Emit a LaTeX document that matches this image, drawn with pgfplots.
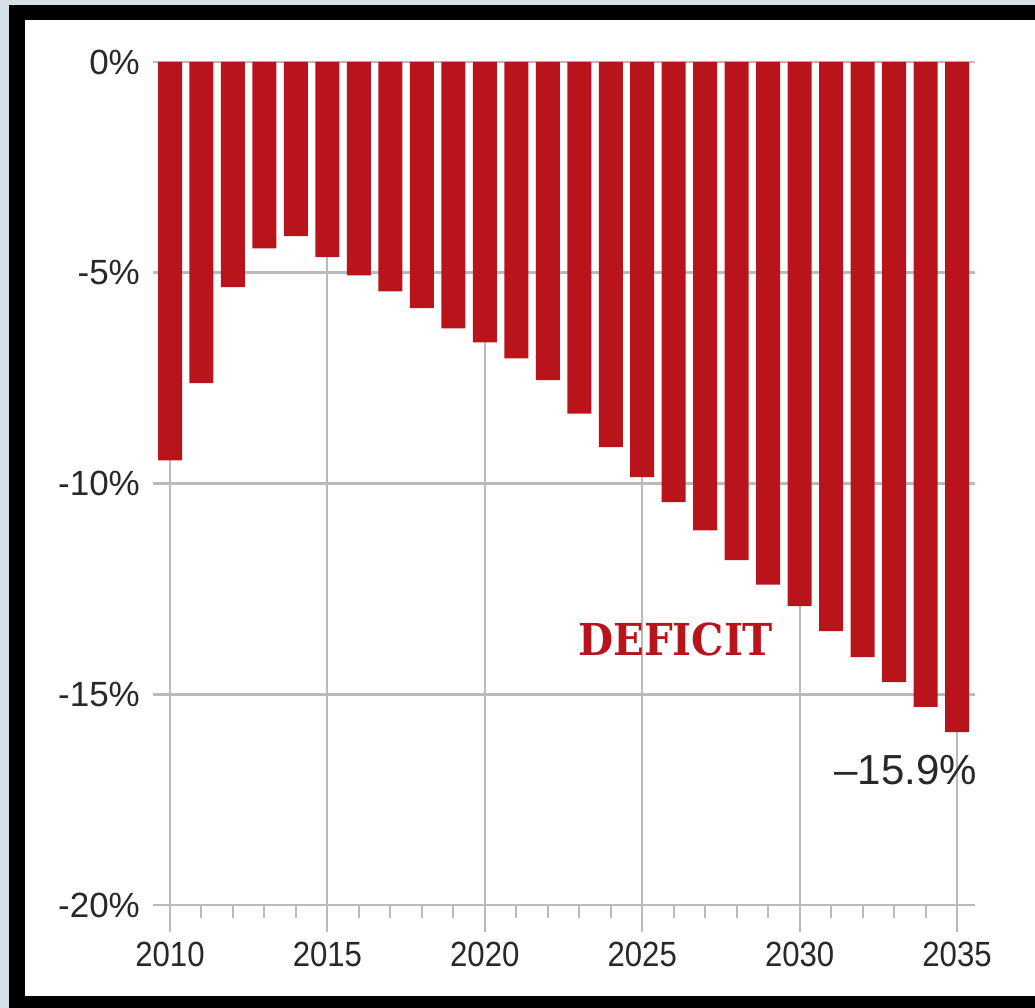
\documentclass[border=0pt]{standalone}
\usepackage{pgfplots}
\pgfplotsset{compat=1.18}
\usepackage{fontspec}
\setmainfont{Liberation Sans}
\newfontfamily\tickfont[FakeStretch=0.89]{Liberation Sans}
\newfontfamily\slabfont[FakeStretch=0.92]{DejaVu Serif}
\definecolor{barred}{RGB}{185,20,28}
\definecolor{gridgray}{RGB}{184,186,190}
\definecolor{txt}{RGB}{40,40,40}
\definecolor{bgblue}{RGB}{214,224,233}
\begin{document}
\begin{tikzpicture}[x=1pt,y=1pt]
\path[use as bounding box] (0,0) rectangle (1035,1008);
\fill[bgblue] (0,0) rectangle (1035,1008);
\fill[black] (9,0) rectangle (1035,1003);
\fill[white] (25,12) rectangle (1035,988);
\begin{axis}[
  at={(153pt,103pt)}, anchor=south west,
  scale only axis, width=822pt, height=843pt,
  xmin=2009.46, xmax=2035.57, ymin=-20, ymax=0,
  axis line style={draw=none},
  xtick={2010,2015,2020,2025,2030,2035},
  xticklabels={2010,2015,2020,2025,2030,2035},
  minor xtick={2011,2012,2013,2014,2016,2017,2018,2019,2021,2022,2023,2024,2026,2027,2028,2029,2031,2032,2033,2034},
  ytick={-20,-15,-10,-5,0},
  yticklabels={-20\%,-15\%,-10\%,-5\%,0\%},
  xmajorgrids, ymajorgrids,
  x grid style={gridgray, line width=2pt},
  y grid style={gridgray, line width=2.7pt},
  tick align=outside,
  major tick length=27pt, minor tick length=13pt,
  xtick pos=bottom, ytick pos=left,
  x tick style={gridgray, line width=2pt},
  minor x tick style={gridgray, line width=2pt},
  y tick style={draw=none},
  xticklabel style={font=\tickfont\fontsize{35}{40}\selectfont, text=txt, inner sep=0pt, yshift=-10pt},
  yticklabel style={font=\fontsize{35}{40}\selectfont, text=txt, inner sep=0pt, xshift=14pt},
  ybar, bar width=24pt,
  clip=false,
]
\addplot[fill=barred, draw=none] coordinates {
(2010,-9.45) (2011,-7.62) (2012,-5.34) (2013,-4.42) (2014,-4.13)
(2015,-4.63) (2016,-5.06) (2017,-5.44) (2018,-5.84) (2019,-6.32)
(2020,-6.65) (2021,-7.03) (2022,-7.55) (2023,-8.34) (2024,-9.14)
(2025,-9.85) (2026,-10.44) (2027,-11.11) (2028,-11.82) (2029,-12.40)
(2030,-12.91) (2031,-13.50) (2032,-14.12) (2033,-14.71) (2034,-15.30)
(2035,-15.90)};
\node[font=\slabfont\bfseries\fontsize{44}{50}\selectfont, text=barred, inner sep=0pt] at (axis cs:2026.06,-13.71) {DEFICIT};
\node[font=\fontsize{42}{48}\selectfont, text=txt, inner sep=0pt] at (axis cs:2033.37,-16.8) {–15.9\%};
\end{axis}
\end{tikzpicture}
\end{document}
